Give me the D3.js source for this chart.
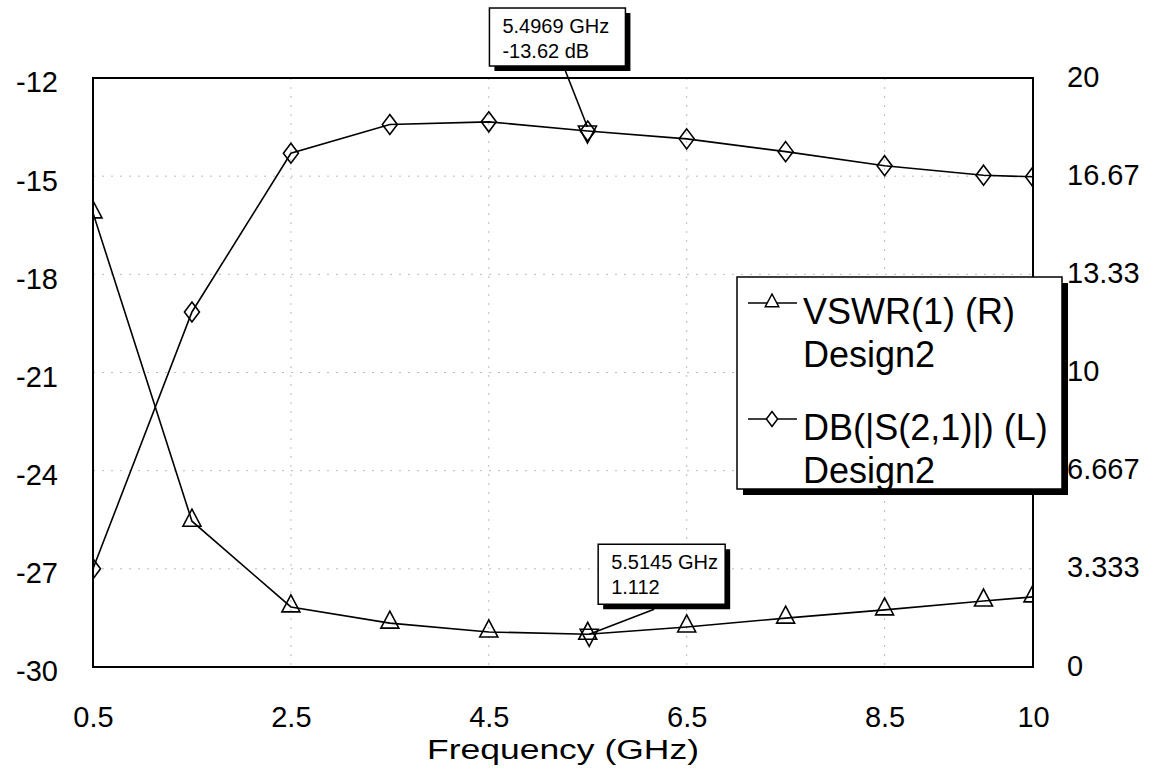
<!DOCTYPE html>
<html>
<head>
<meta charset="utf-8">
<script src="https://cdn.jsdelivr.net/npm/d3@7"></script>
<style>
  body { margin: 0; background: #fff; }
  text { font-family: "Liberation Sans", Arial, sans-serif; fill: #000; }
</style>
</head>
<body>
<div id="chart"></div>
<script>
// data
var freqs = [0.5, 1.5, 2.5, 3.5, 4.5, 5.5, 6.5, 7.5, 8.5, 9.5, 10];
var s21dB = [-27.0, -19.15, -14.3, -13.42, -13.34, -13.62, -13.86, -14.25, -14.68, -14.97, -15.02];
var vswr = [15.42, 4.95, 2.04, 1.49, 1.19, 1.11, 1.36, 1.66, 1.94, 2.24, 2.38];
var xTicks = [0.5, 2.5, 4.5, 6.5, 8.5, 10];
var leftTicks = [-12, -15, -18, -21, -24, -27, -30];
var rightTicks = [0, 3.333, 6.667, 10, 13.33, 16.67, 20];
var rightTickLabels = ["0", "3.333", "6.667", "10", "13.33", "16.67", "20"];
var markerS21 = { f: 5.4969, v: -13.62, lines: ["5.4969 GHz", "-13.62 dB"] };
var markerVswr = { f: 5.5145, v: 1.112, lines: ["5.5145 GHz", "1.112"] };

var svgWidth = 1154;
var svgHeight = 773;
var margin = { top: 78, right: 121, bottom: 106, left: 93 };
var width = svgWidth - margin.left - margin.right;
var height = svgHeight - margin.top - margin.bottom;

var svg = d3.select("#chart")
    .append("svg")
    .attr("width", svgWidth)
    .attr("height", svgHeight);

var chartGroup = svg.append("g")
    .attr("transform", `translate(${margin.left}, ${margin.top})`);

var xScale = d3.scaleLinear().domain([0.5, 10]).range([0, width]);
var yLeft = d3.scaleLinear().domain([-30, -12]).range([height, 0]);
var yRight = d3.scaleLinear().domain([0, 20]).range([height, 0]);

svg.append("defs").append("clipPath")
    .attr("id", "plotClip")
    .append("rect")
    .attr("width", width)
    .attr("height", height);

// dotted grid
chartGroup.selectAll("line.hgrid")
    .data(leftTicks.slice(1, -1))
    .enter()
    .append("line")
    .attr("x1", 0).attr("x2", width)
    .attr("y1", d => yLeft(d)).attr("y2", d => yLeft(d))
    .attr("stroke", "#bbb")
    .attr("stroke-width", 1)
    .attr("stroke-dasharray", "2,7");

chartGroup.selectAll("line.vgrid")
    .data(xTicks.slice(1, -1))
    .enter()
    .append("line")
    .attr("y1", 0).attr("y2", height)
    .attr("x1", d => xScale(d)).attr("x2", d => xScale(d))
    .attr("stroke", "#bbb")
    .attr("stroke-width", 1)
    .attr("stroke-dasharray", "2,7");

// axis tick labels
var bottomAxis = d3.axisBottom(xScale).tickValues(xTicks).tickSize(0).tickPadding(39).tickFormat(d => String(d));
var leftAxis = d3.axisLeft(yLeft).tickValues(leftTicks).tickSize(0).tickPadding(35).tickFormat(d => String(d));
var rightAxis = d3.axisRight(yRight).tickValues(rightTicks).tickSize(0).tickPadding(34)
    .tickFormat((d, i) => rightTickLabels[i]);

var gx = chartGroup.append("g").attr("transform", `translate(0, ${height})`).call(bottomAxis);
var gl = chartGroup.append("g").call(leftAxis);
var gr = chartGroup.append("g").attr("transform", `translate(${width}, 0)`).call(rightAxis);
[gx, gl, gr].forEach(function (g) {
    g.select(".domain").remove();
    g.selectAll("text").style("font-size", "29px").style("font-family", "Liberation Sans, Arial, sans-serif");
});
gl.selectAll("text").attr("dy", "0.48em");
gr.selectAll("text").attr("dy", "0.28em");

// series
var plot = chartGroup.append("g").attr("clip-path", "url(#plotClip)");

var s21Line = d3.line()
    .x((d, i) => xScale(freqs[i]))
    .y(d => yLeft(d));
var vswrLine = d3.line()
    .x((d, i) => xScale(freqs[i]))
    .y(d => yRight(d));

plot.append("path").datum(s21dB).attr("d", s21Line)
    .attr("fill", "none").attr("stroke", "#000").attr("stroke-width", 1.6);
plot.append("path").datum(vswr).attr("d", vswrLine)
    .attr("fill", "none").attr("stroke", "#000").attr("stroke-width", 1.6);

var diamond = "M0,-10L7.5,0L0,10L-7.5,0Z";
var triangle = "M0,-12L9,5L-9,5Z";
var triangleDown = "M0,12L9,-5L-9,-5Z";

plot.selectAll("path.dia")
    .data(s21dB)
    .enter()
    .append("path")
    .attr("d", diamond)
    .attr("transform", (d, i) => `translate(${xScale(freqs[i])}, ${yLeft(d)})`)
    .attr("fill", "none").attr("stroke", "#000").attr("stroke-width", 1.6);

plot.selectAll("path.tri")
    .data(vswr)
    .enter()
    .append("path")
    .attr("d", triangle)
    .attr("transform", (d, i) => `translate(${xScale(freqs[i])}, ${yRight(d)})`)
    .attr("fill", "none").attr("stroke", "#000").attr("stroke-width", 1.6);

// marker points (down triangles)
plot.append("path").attr("d", triangleDown)
    .attr("transform", `translate(${xScale(markerS21.f)}, ${yLeft(markerS21.v)})`)
    .attr("fill", "none").attr("stroke", "#000").attr("stroke-width", 1.6);
plot.append("path").attr("d", triangleDown)
    .attr("transform", `translate(${xScale(markerVswr.f)}, ${yRight(markerVswr.v)})`)
    .attr("fill", "none").attr("stroke", "#000").attr("stroke-width", 1.6);

// plot border
chartGroup.append("rect")
    .attr("width", width).attr("height", height)
    .attr("fill", "none").attr("stroke", "#000").attr("stroke-width", 2);

// marker boxes
function markerBox(px, py, bx, by, bw, bh, lines, lx, ly) {
    svg.append("line")
        .attr("x1", lx).attr("y1", ly).attr("x2", px).attr("y2", py)
        .attr("stroke", "#000").attr("stroke-width", 1.6);
    svg.append("rect")
        .attr("x", bx + 5).attr("y", by + 5).attr("width", bw).attr("height", bh)
        .attr("fill", "#000");
    svg.append("rect")
        .attr("x", bx).attr("y", by).attr("width", bw).attr("height", bh)
        .attr("fill", "#fff").attr("stroke", "#000").attr("stroke-width", 1.5);
    svg.append("text").attr("x", bx + 13).attr("y", by + 25).style("font-size", "20px").text(lines[0]);
    svg.append("text").attr("x", bx + 13).attr("y", by + 50).style("font-size", "20px").text(lines[1]);
}

var m1x = margin.left + xScale(markerS21.f), m1y = margin.top + yLeft(markerS21.v);
markerBox(m1x, m1y - 4, m1x - 98, m1y - 123, 136, 58, markerS21.lines, m1x - 22, m1y - 60);
var m2x = margin.left + xScale(markerVswr.f), m2y = margin.top + yRight(markerVswr.v);
markerBox(m2x, m2y, m2x + 9, m2y - 90, 127, 60, markerVswr.lines, m2x + 65, m2y - 25);

// legend
var legend = svg.append("g").attr("transform", "translate(737, 277)");
legend.append("rect").attr("x", 6).attr("y", 6).attr("width", 325).attr("height", 212).attr("fill", "#000");
legend.append("rect").attr("width", 325).attr("height", 212)
    .attr("fill", "#fff").attr("stroke", "#000").attr("stroke-width", 1.5);

var legendItems = [
    { name: "VSWR(1) (R)", sym: triangle, y: 26 },
    { name: "DB(|S(2,1)|) (L)", sym: diamond, y: 142 }
];
legendItems.forEach(function (item) {
    legend.append("line").attr("x1", 11).attr("x2", 60).attr("y1", item.y).attr("y2", item.y)
        .attr("stroke", "#000").attr("stroke-width", 1.6);
    legend.append("path").attr("d", item.sym)
        .attr("transform", `translate(35, ${item.y}) scale(0.75)`)
        .attr("fill", "#fff").attr("stroke", "#000").attr("stroke-width", 2);
    legend.append("text").attr("x", 66).attr("y", item.y + 21).style("font-size", "36px").text(item.name);
    legend.append("text").attr("x", 66).attr("y", item.y + 64).style("font-size", "36px").text("Design2");
});

// axis title
svg.append("text")
    .attr("x", margin.left + width / 2)
    .attr("y", 759)
    .attr("text-anchor", "middle")
    .attr("textLength", 272)
    .attr("lengthAdjust", "spacingAndGlyphs")
    .style("font-size", "27px")
    .text("Frequency (GHz)");
</script>
</body>
</html>
